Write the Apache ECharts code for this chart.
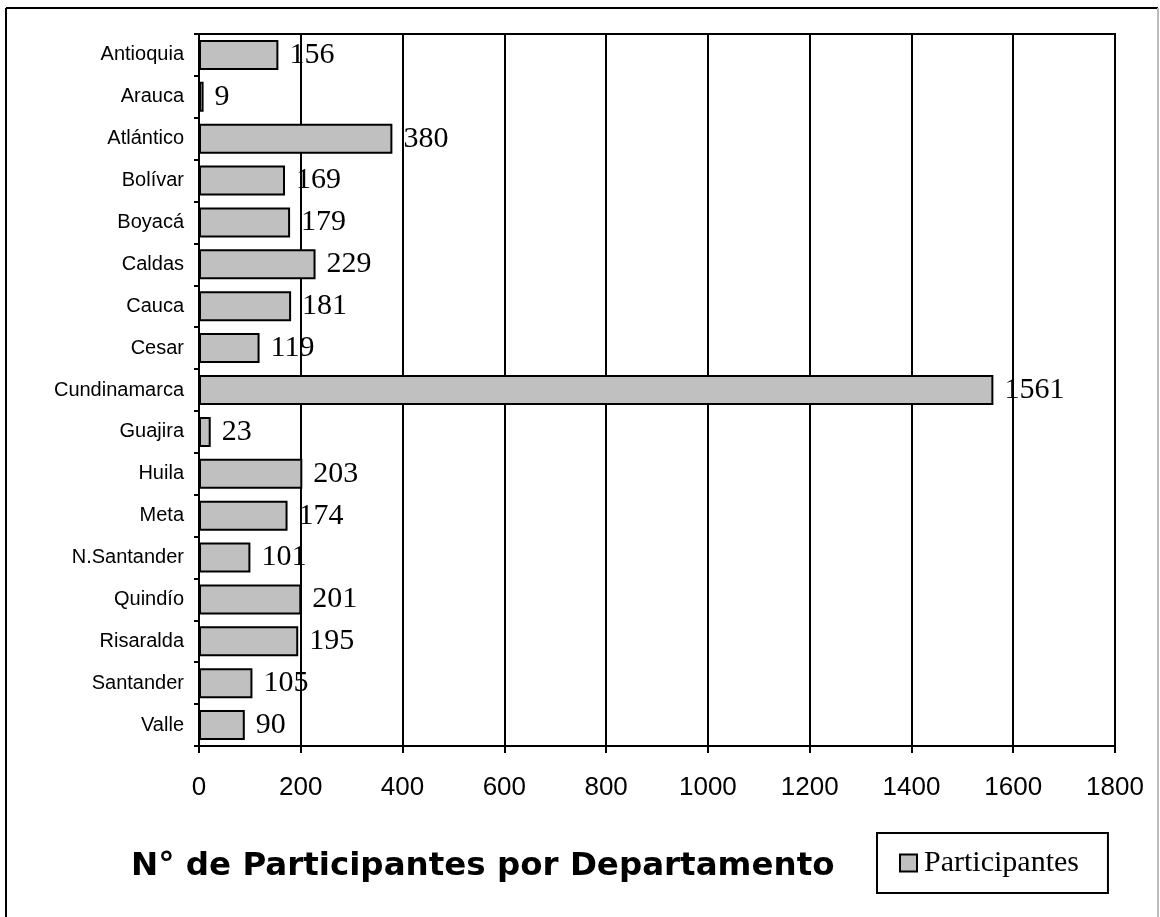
<!DOCTYPE html>
<html>
<head>
<meta charset="utf-8">
<script src="https://cdn.jsdelivr.net/npm/echarts@6/dist/echarts.min.js"></script>
<style>html,body{margin:0;padding:0;background:#fff;}#c{width:1160px;height:917px;}</style>
</head>
<body>
<div id="c"></div>
<script>
const categories = ["Antioquia","Arauca","Atlántico","Bolívar","Boyacá","Caldas","Cauca","Cesar","Cundinamarca","Guajira","Huila","Meta","N.Santander","Quindío","Risaralda","Santander","Valle"];
const participantes = [156,9,380,169,179,229,181,119,1561,23,203,174,101,201,195,105,90];
const xTicks = {min:0, max:1800, interval:200};
const titleText = "N° de Participantes por Departamento";
const seriesName = "Participantes";

const chart = echarts.init(document.getElementById('c'), null, {renderer:'canvas'});
chart.setOption({
  animation:false,
  backgroundColor:'#fff',
  title:{
    text:titleText, left:126, top:845,
    textStyle:{fontFamily:'DejaVu Sans', fontWeight:'bold', fontSize:32.5, color:'#000'}
  },
  legend:{
    left:877, top:833, orient:'horizontal',
    borderColor:'#000', borderWidth:2, borderRadius:0,
    padding:[15,29,15,22],
    icon:'rect', itemWidth:17, itemHeight:17, itemGap:6,
    textStyle:{fontFamily:'Liberation Serif', fontSize:30, color:'#000', padding:[0,0,0,2]},
    data:[seriesName]
  },
  grid:{
    left:199, top:34, right:45, bottom:171, containLabel:false,
    show:true, borderColor:'#000', borderWidth:2, backgroundColor:'transparent'
  },
  xAxis:{
    type:'value', min:xTicks.min, max:xTicks.max, interval:xTicks.interval,
    axisLine:{show:true, lineStyle:{color:'#000', width:2}},
    axisTick:{show:true, length:7, lineStyle:{color:'#000', width:2}},
    splitLine:{show:true, lineStyle:{color:'#000', width:2}},
    axisLabel:{fontFamily:'Liberation Sans', fontSize:26, color:'#000', margin:29,
      formatter:function(v){return String(v);}}
  },
  yAxis:{
    type:'category', data:categories, inverse:true,
    axisLine:{show:true, lineStyle:{color:'#000', width:2}},
    axisTick:{show:true, length:5, lineStyle:{color:'#000', width:2}},
    axisLabel:{fontFamily:'Liberation Sans', fontSize:20, color:'#000', margin:15}
  },
  series:[{
    name:seriesName, type:'bar', data:participantes, barWidth:30,
    itemStyle:{color:'#c0c0c0', borderColor:'#000', borderWidth:2},
    label:{show:true, position:'right', distance:11, color:'#000',
      fontFamily:'Liberation Serif', fontSize:30}
  }],
  graphic:[
    {type:'line', shape:{x1:6, y1:8, x2:1158, y2:8}, style:{stroke:'#000', lineWidth:2}},
    {type:'line', shape:{x1:6, y1:8, x2:6, y2:917}, style:{stroke:'#000', lineWidth:2}},
    {type:'line', shape:{x1:1158, y1:8, x2:1158, y2:917}, style:{stroke:'#bbb', lineWidth:2}}
  ]
});
</script>
</body>
</html>
